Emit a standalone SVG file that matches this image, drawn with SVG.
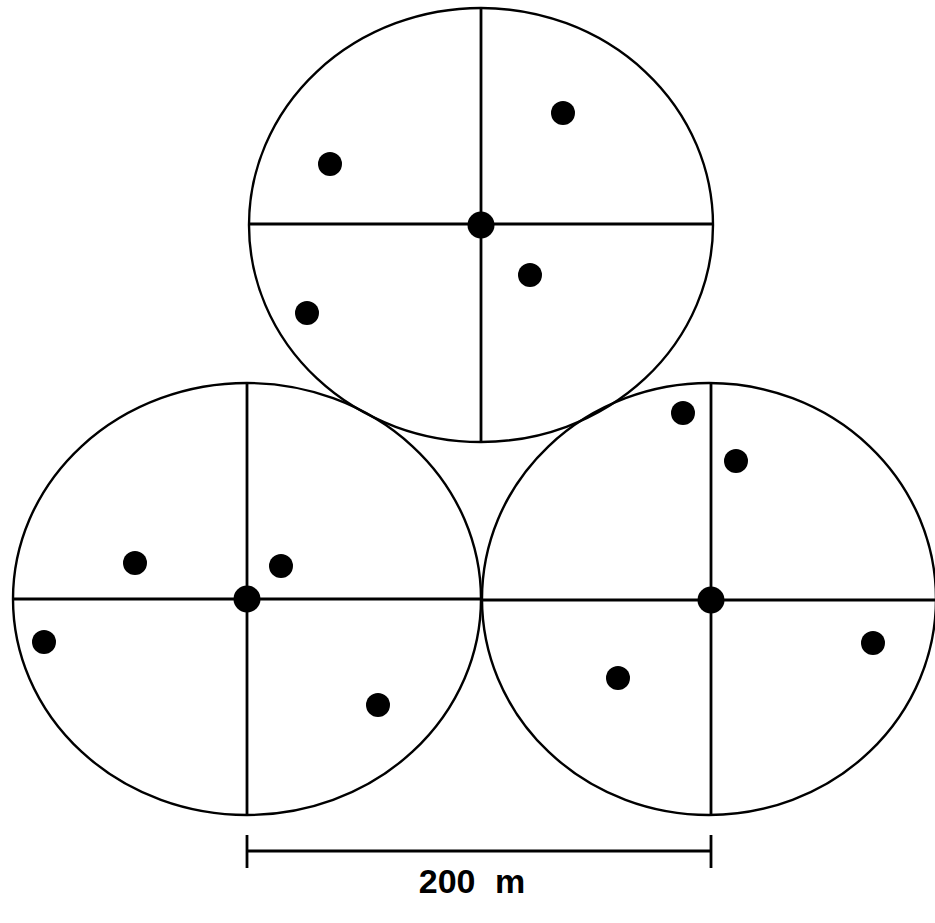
<svg xmlns="http://www.w3.org/2000/svg" width="935" height="923" viewBox="0 0 935 923">
<style>
.plot{fill:none;stroke:#000;stroke-width:2.4}
.axis{stroke:#000;stroke-width:2.8;fill:none}
.pt{fill:#000}
.lbl{font-family:"Liberation Sans",Arial,sans-serif;font-weight:bold;font-size:34px;fill:#000}
</style>
<rect width="935" height="923" fill="#fff"/>
<g id="plot-top">
<ellipse class="plot" cx="481" cy="225" rx="232" ry="217"/>
<line class="axis" x1="481" y1="9" x2="481" y2="442"/>
<line class="axis" x1="249" y1="224" x2="713" y2="224"/>
<circle class="pt" cx="481" cy="225" r="13.5"/>
<circle class="pt" cx="563" cy="113" r="12"/>
<circle class="pt" cx="330" cy="164" r="12"/>
<circle class="pt" cx="530" cy="275" r="12"/>
<circle class="pt" cx="307" cy="313" r="12"/>
</g>
<g id="plot-left">
<ellipse class="plot" cx="247" cy="599" rx="234" ry="216"/>
<line class="axis" x1="247" y1="383" x2="247" y2="815"/>
<line class="axis" x1="13" y1="599" x2="481" y2="599"/>
<circle class="pt" cx="247" cy="599" r="13.5"/>
<circle class="pt" cx="135" cy="563" r="12"/>
<circle class="pt" cx="281" cy="566" r="12"/>
<circle class="pt" cx="44" cy="642" r="12"/>
<circle class="pt" cx="378" cy="705" r="12"/>
</g>
<g id="plot-right">
<ellipse class="plot" cx="709" cy="599" rx="227" ry="216"/>
<line class="axis" x1="711" y1="383" x2="711" y2="815"/>
<line class="axis" x1="481" y1="600" x2="935" y2="600"/>
<circle class="pt" cx="711" cy="600" r="13.5"/>
<circle class="pt" cx="683" cy="413" r="12"/>
<circle class="pt" cx="736" cy="461" r="12"/>
<circle class="pt" cx="873" cy="643" r="12"/>
<circle class="pt" cx="618" cy="678" r="12"/>
</g>
<g id="scale-bar">
<line class="axis" x1="247" y1="851" x2="711" y2="851"/>
<line class="axis" x1="247" y1="835" x2="247" y2="868"/>
<line class="axis" x1="711" y1="835" x2="711" y2="868"/>
<text class="lbl" x="472" y="893" text-anchor="middle" word-spacing="10">200 m</text>
</g>
</svg>
